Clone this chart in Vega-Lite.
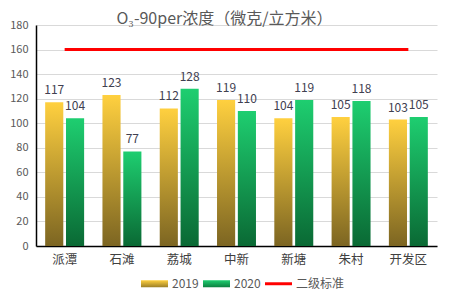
{
  "$schema": "https://vega.github.io/schema/vega-lite/v6.json",
  "width": 401,
  "height": 221,
  "autosize": {"type": "none"},
  "padding": {"left": 36, "top": 25, "right": 18, "bottom": 50},
  "background": "white",
  "config": {
    "view": {"stroke": null},
    "font": "Noto Sans CJK SC",
    "axis": {"labelFont": "Noto Sans CJK SC", "ticks": false}
  },
  "title": {
    "text": "O₃-90per浓度（微克/立方米）",
    "fontSize": 16,
    "fontWeight": "normal",
    "color": "#595959",
    "anchor": "middle",
    "dx": -12,
    "offset": 2,
    "dy": 10
  },
  "datasets": {
    "conc": [
      {"station": "派潭", "year": "2019", "value": 117},
      {"station": "派潭", "year": "2020", "value": 104},
      {"station": "石滩", "year": "2019", "value": 123},
      {"station": "石滩", "year": "2020", "value": 77},
      {"station": "荔城", "year": "2019", "value": 112},
      {"station": "荔城", "year": "2020", "value": 128},
      {"station": "中新", "year": "2019", "value": 119},
      {"station": "中新", "year": "2020", "value": 110},
      {"station": "新塘", "year": "2019", "value": 104},
      {"station": "新塘", "year": "2020", "value": 119},
      {"station": "朱村", "year": "2019", "value": 105},
      {"station": "朱村", "year": "2020", "value": 118},
      {"station": "开发区", "year": "2019", "value": 103},
      {"station": "开发区", "year": "2020", "value": 105}
    ],
    "standard": [
      {"station": "派潭", "value": 160, "series": "二级标准"},
      {"station": "石滩", "value": 160, "series": "二级标准"},
      {"station": "荔城", "value": 160, "series": "二级标准"},
      {"station": "中新", "value": 160, "series": "二级标准"},
      {"station": "新塘", "value": 160, "series": "二级标准"},
      {"station": "朱村", "value": 160, "series": "二级标准"},
      {"station": "开发区", "value": 160, "series": "二级标准"}
    ]
  },
  "encoding": {
    "x": {
      "field": "station",
      "type": "nominal",
      "sort": ["派潭", "石滩", "荔城", "中新", "新塘", "朱村", "开发区"],
      "scale": {"paddingInner": 0.32, "paddingOuter": 0.16},
      "axis": {
        "title": null,
        "labelAngle": 0,
        "labelFontSize": 12.5,
        "labelColor": "#404040",
        "labelPadding": 7,
        "domainColor": "#000000",
        "domainWidth": 1.5
      }
    },
    "y": {
      "field": "value",
      "type": "quantitative",
      "scale": {"domain": [0, 180]},
      "axis": {
        "title": null,
        "values": [0, 20, 40, 60, 80, 100, 120, 140, 160, 180],
        "labelFontSize": 11,
        "labelColor": "#595959",
        "labelPadding": 8,
        "gridColor": "#D9D9D9",
        "domainColor": "#000000",
        "domainWidth": 1.5
      }
    }
  },
  "layer": [
    {
      "data": {"name": "conc"},
      "mark": {"type": "bar"},
      "encoding": {
        "xOffset": {"field": "year", "type": "nominal", "scale": {"domain": ["2019", "2020"], "paddingInner": 0.13}},
        "color": {
          "condition": {
            "test": "datum.year === '2019'",
            "value": {"gradient": "linear", "x1": 0, "y1": 0, "x2": 0, "y2": 1,
              "stops": [{"offset": 0, "color": "#FFD03F"}, {"offset": 1, "color": "#7C6522"}]}
          },
          "value": {"gradient": "linear", "x1": 0, "y1": 0, "x2": 0, "y2": 1,
            "stops": [{"offset": 0, "color": "#1ECE70"}, {"offset": 1, "color": "#0A6934"}]}
        }
      }
    },
    {
      "data": {"name": "conc"},
      "mark": {"type": "text", "baseline": "bottom", "dy": -5, "fontSize": 12, "color": "#404050"},
      "encoding": {
        "xOffset": {"field": "year", "type": "nominal", "scale": {"domain": ["2019", "2020"], "paddingInner": 0.13}},
        "text": {"field": "value", "type": "quantitative"}
      }
    },
    {
      "data": {"name": "standard"},
      "mark": {"type": "line", "strokeWidth": 3},
      "encoding": {
        "color": {
          "field": "series",
          "type": "nominal",
          "scale": {"domain": ["2019", "2020", "二级标准"], "range": ["#E8B92D", "#14A85A", "#FF0000"]},
          "legend": {
            "title": null,
            "orient": "none",
            "direction": "horizontal",
            "legendX": 105,
            "legendY": 245,
            "symbolSize": 729,
            "symbolType": "M-1,-0.26H1V0.26H-1Z",
            "symbolStrokeWidth": 0,
            "labelFontSize": 12,
            "labelColor": "#595959",
            "labelOffset": 4,
            "columnPadding": 4,
            "encode": {
              "symbols": {
                "update": {
                  "shape": {"signal": "datum.value === '二级标准' ? 'M-1,-0.11H1V0.11H-1Z' : 'M-1,-0.26H1V0.26H-1Z'"},
                  "fill": {"signal": "datum.value === '2019' ? {gradient: 'linear', x1: 0, y1: 0, x2: 0, y2: 1, stops: [{offset: 0, color: '#FFD03F'}, {offset: 1, color: '#9C7F26'}]} : datum.value === '2020' ? {gradient: 'linear', x1: 0, y1: 0, x2: 0, y2: 1, stops: [{offset: 0, color: '#1ECE70'}, {offset: 1, color: '#0C8040'}]} : '#FF0000'"},
                  "stroke": {"value": "transparent"},
                  "strokeWidth": {"value": 0},
                  "opacity": {"value": 1}
                }
              }
            }
          }
        }
      }
    }
  ]
}
